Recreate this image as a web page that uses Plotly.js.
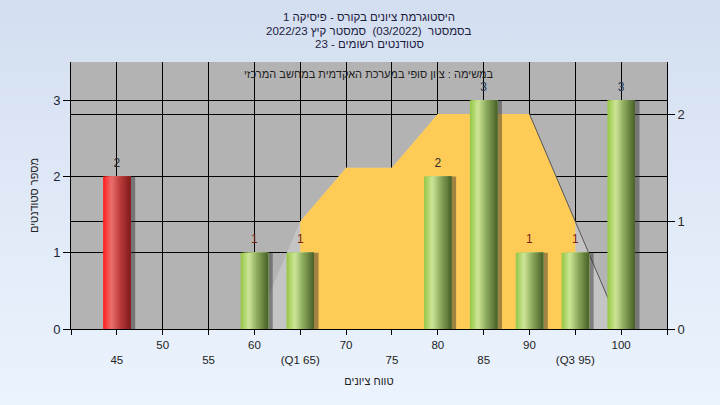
<!DOCTYPE html>
<html>
<head>
<meta charset="utf-8">
<script src="https://cdn.plot.ly/plotly-3.0.1.min.js"></script>
<style>
html,body{margin:0;padding:0;width:720px;height:405px;overflow:hidden;}
body{background:linear-gradient(to bottom,#d3def0 0%,#e2ebf8 60%,#ebf3fd 100%);}
#chart{width:720px;height:405px;}
</style>
</head>
<body>
<div id="chart"></div>
<script>
// ---- data ----
const binCenters   = [45, 60, 65, 80, 85, 90, 95, 100];
const studentCounts = [2, 1, 1, 2, 3, 1, 1, 3];
const curveX = [60, 65, 70, 75, 80, 85, 90, 95, 100];
const curveY = [0, 1, 1.5, 1.5, 2, 2, 2, 1, 0];
const quartile1 = 65;
const quartile3 = 95;
const xTickVals = [40, 45, 50, 55, 60, 65, 70, 75, 80, 85, 90, 95, 100, 105];
const xTickLabels = ['', '45', '50', '55', '60', '(Q1 65)', '70', '75', '80', '85', '90', '(Q3 95)', '100', ''];
const titleLines = [
  'היסטוגרמת ציונים בקורס - פיסיקה 1',
  'בסמסטר  (03/2022)  סמסטר קיץ 2022/23',
  'סטודנטים רשומים - 23'
];
const taskNote = 'במשימה : ציון סופי במערכת האקדמית במחשב המרכזי';
const xTitle = 'טווח ציונים';
const yTitle = 'מספר סטודנטים';

// ---- styling helpers ----
const FONT = 'Arial, "Liberation Sans", "DejaVu Sans", sans-serif';
const greenStops = [[0,[148,198,68]],[0.3,[206,230,152]],[0.6,[140,170,92]],[1,[72,96,40]]];
const redStops   = [[0,[255,28,28]],[0.3,[236,112,112]],[0.6,[190,62,62]],[1,[128,26,26]]];
function grad(stops, t){
  for(let k=0;k<stops.length-1;k++){
    const a=stops[k], b=stops[k+1];
    if(t>=a[0] && t<=b[0]){
      const f=(t-a[0])/(b[0]-a[0]);
      const c=a[1].map((v,j)=>Math.round(v+(b[1][j]-v)*f));
      return 'rgb('+c.join(',')+')';
    }
  }
  return 'rgb('+stops[stops.length-1][1].join(',')+')';
}
const isFail = binCenters.map(x => x < 55);
const BW = 3;
const traces = [];

// distribution area (right axis = main y)
traces.push({type:'scatter', x:curveX, y:curveY, xaxis:'x', yaxis:'y', mode:'lines',
  fill:'tozeroy', fillcolor:'#c4c4c4', line:{width:0, color:'#c4c4c4'}, hoverinfo:'skip', showlegend:false});
const iqX = curveX.filter(x => x >= quartile1 && x <= quartile3);
const iqY = curveY.filter((v,i) => curveX[i] >= quartile1 && curveX[i] <= quartile3);
traces.push({type:'scatter', x:iqX, y:iqY, xaxis:'x', yaxis:'y', mode:'lines',
  fill:'tozeroy', fillcolor:'#ffcb57', line:{width:0, color:'#ffcb57'}, hoverinfo:'skip', showlegend:false});
const peak = Math.max(...curveY);
const lastPeak = curveX.reduce((m,x,i)=> curveY[i]===peak ? i : m, 0);
traces.push({type:'scatter', x:curveX.slice(lastPeak), y:curveY.slice(lastPeak), xaxis:'x', yaxis:'y', mode:'lines',
  line:{width:1, color:'#555555'}, hoverinfo:'skip', showlegend:false});

// bar shadow
traces.push({type:'bar', x:binCenters, y:studentCounts, xaxis:'x', yaxis:'y2',
  offset:-BW/2+0.5, width:BW, marker:{color:'rgba(45,45,45,0.45)', line:{width:0}}, hoverinfo:'skip', showlegend:false});
// cylinder slices
const N = 16;
for(let i=0;i<N;i++){
  const t=(i+0.5)/N;
  traces.push({type:'bar', x:binCenters, y:studentCounts, xaxis:'x', yaxis:'y2',
    offset:-BW/2 + i*BW/N, width:BW - i*BW/N,
    marker:{color:isFail.map(f => f ? grad(redStops,t) : grad(greenStops,t)), line:{width:0}},
    hoverinfo:'skip', showlegend:false});
}
// value labels
const labelColor = {1:'#7a2418', 2:'#2a2a2a', 3:'#1d3b57'};
traces.push({type:'scatter', mode:'markers+text', x:binCenters, y:studentCounts, xaxis:'x', yaxis:'y2',
  marker:{size:9, color:'rgba(0,0,0,0)'},
  text:studentCounts.map(String), textposition:'top center',
  textfont:{family:FONT, size:12, color:studentCounts.map(v => labelColor[v] || '#222')},
  hoverinfo:'skip', showlegend:false, cliponaxis:false});

const tickText = xTickLabels.map((s,i) => (i % 2 === 1) ? '<br>' + s : s);

const layout = {
  width:720, height:405,
  paper_bgcolor:'rgba(0,0,0,0)', plot_bgcolor:'#b3b3b3',
  margin:{l:71, r:53, t:62, b:76},
  font:{family:FONT, size:11, color:'#222'},
  barmode:'overlay', showlegend:false,
  title:{text:titleLines[0], x:0.5, xref:'paper', y:1-17/405, yref:'container', yanchor:'middle',
    font:{family:FONT, size:11.5, color:'#1c2040'}},
  xaxis:{range:[40,105], tickmode:'array', tickvals:xTickVals, ticktext:tickText,
    showgrid:true, gridcolor:'#000', gridwidth:1, zeroline:false,
    showline:true, linecolor:'#000', linewidth:1, ticks:'outside', ticklen:5, tickcolor:'#000',
    tickfont:{family:FONT, size:11.5, color:'#222'},
    title:{text:xTitle, font:{family:FONT, size:11, color:'#222'}, standoff:12}},
  yaxis:{range:[0, 3.5*(76.3/107.5)], side:'right', tickvals:[0,1,2], ticktext:['0','1','2'],
    showgrid:true, gridcolor:'#000', gridwidth:1, zeroline:false,
    showline:true, linecolor:'#000', linewidth:1, ticks:'outside', ticklen:7, tickcolor:'#000',
    tickfont:{family:FONT, size:13, color:'#2a2a2a'}},
  yaxis2:{range:[0,3.5], overlaying:'y', side:'left', tickvals:[0,1,2,3],
    showgrid:true, gridcolor:'#000', gridwidth:1, zeroline:false,
    showline:true, linecolor:'#000', linewidth:1, ticks:'outside', ticklen:7, tickcolor:'#000',
    tickfont:{family:FONT, size:13, color:'#1a2438'},
    title:{text:yTitle, font:{family:FONT, size:11, color:'#222'}, standoff:12}},
  annotations:[
    {text:titleLines[1], xref:'paper', yref:'paper', x:0.5, y:(329-30.5)/267, xanchor:'center', yanchor:'middle',
      showarrow:false, font:{family:FONT, size:11.5, color:'#1c2040'}},
    {text:titleLines[2], xref:'paper', yref:'paper', x:0.5, y:(329-44)/267, xanchor:'center', yanchor:'middle',
      showarrow:false, font:{family:FONT, size:11.5, color:'#1c2040'}},
    {text:taskNote, xref:'paper', yref:'paper', x:0.5, y:(329-73.5)/267, xanchor:'center', yanchor:'middle',
      showarrow:false, font:{family:FONT, size:11, color:'#222'}}
  ]
};
Plotly.newPlot('chart', traces, layout, {displayModeBar:false, staticPlot:true});
</script>
</body>
</html>
